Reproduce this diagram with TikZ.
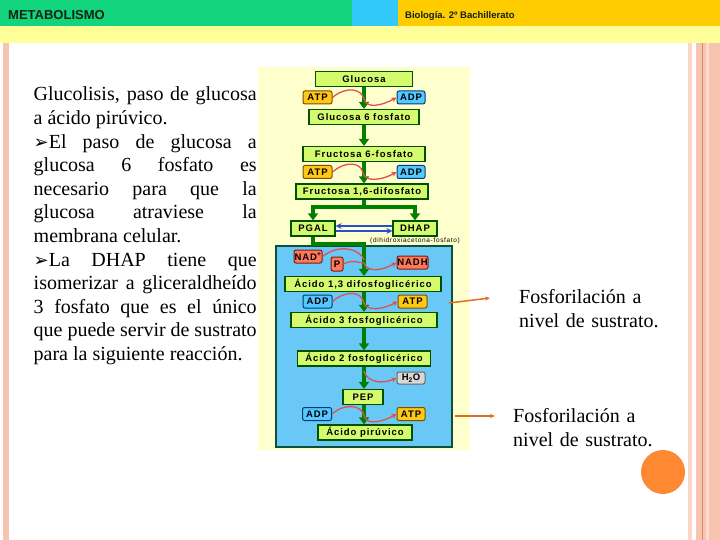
\documentclass[tikz,border=0pt]{standalone}
\usepackage{fontspec}
\setmainfont{Liberation Serif}
\newfontfamily\pixfont{Liberation Sans}[LetterSpace=10]
\newfontfamily\hdrfont{Liberation Sans}
\newfontfamily\symfont{DejaVu Sans}
\usetikzlibrary{arrows.meta,positioning,calc}
\definecolor{hdrgreen}{RGB}{18,212,124}
\definecolor{hdrblue}{RGB}{50,200,250}
\definecolor{hdryellow}{RGB}{255,204,0}
\definecolor{hdrpale}{RGB}{255,255,153}
\definecolor{hdrtext}{RGB}{20,35,20}
\definecolor{sidepink}{RGB}{248,196,176}
\definecolor{sideline}{RGB}{215,140,100}
\definecolor{panelbg}{RGB}{255,255,206}
\definecolor{cellblue}{RGB}{105,200,245}
\definecolor{cellline}{RGB}{10,80,60}
\definecolor{boxfill}{RGB}{212,250,110}
\definecolor{boxline}{RGB}{0,80,0}
\definecolor{flowgreen}{RGB}{0,128,0}
\definecolor{atpfill}{RGB}{255,200,20}
\definecolor{atpline}{RGB}{120,80,0}
\definecolor{adpfill}{RGB}{85,200,255}
\definecolor{adpline}{RGB}{0,60,120}
\definecolor{nadfill}{RGB}{255,120,90}
\definecolor{nadline}{RGB}{120,30,20}
\definecolor{waterfill}{RGB}{215,215,215}
\definecolor{redcurve}{RGB}{225,80,80}
\definecolor{swapblue}{RGB}{40,80,210}
\definecolor{calloutc}{RGB}{220,110,40}
\definecolor{dotorange}{RGB}{255,136,51}
\newcommand{\bul}{{\symfont\fontsize{18}{18}\selectfont ➢}}

\begin{document}
\begin{tikzpicture}[
    x=1pt, y=-1pt,
    stepbox/.style={rectangle, draw=boxline, line width=1.2pt, fill=boxfill,
                    minimum height=15pt, inner sep=0pt, font=\pixfont\bfseries\fontsize{9.5}{11}\selectfont},
    tagbox/.style={rectangle, rounded corners=2pt, line width=1pt, minimum height=13pt,
                   minimum width=29pt, inner sep=0pt, font=\pixfont\bfseries\fontsize{9.5}{11}\selectfont},
    atpbox/.style={tagbox, draw=atpline, fill=atpfill},
    adpbox/.style={tagbox, draw=adpline, fill=adpfill},
    nadbox/.style={tagbox, draw=nadline, fill=nadfill},
    waterbox/.style={tagbox, draw=black!60, fill=waterfill},
    flow/.style={line width=3.2pt, flowgreen, -{Triangle[width=10pt,length=7pt]}},
    flowline/.style={line width=3.2pt, flowgreen},
    redline/.style={line width=1.3pt, redcurve},
    redarr/.style={redline, -{Stealth[length=5pt,width=5pt]}},
    swap/.style={line width=1.8pt, swapblue, -{Stealth[length=6pt,width=6pt]}},
    callout/.style={line width=1.5pt, calloutc, -{Stealth[length=5pt,width=4pt]}},
    bodytext/.style={anchor=base west, inner sep=0pt, align=justify,
                     font=\fontsize{20}{23.6}\selectfont}
]
\useasboundingbox (0,0) rectangle (720,540);

% header bars
\fill[hdrgreen] (0,0) rectangle (352,26);
\fill[hdrblue] (352,0) rectangle (398,26);
\fill[hdryellow] (398,0) rectangle (720,26);
\fill[hdrpale] (0,26) rectangle (720,43);
\node[anchor=base west, inner sep=0pt, text=hdrtext, font=\hdrfont\bfseries\fontsize{13}{13}\selectfont] (title) at (8,19.5) {METABOLISMO};
\node[anchor=base west, inner sep=0pt, text=hdrtext, font=\hdrfont\bfseries\fontsize{9.5}{10}\selectfont] (course) at (405,18.5) {Biología. 2º Bachillerato};

% side borders
\fill[sidepink] (3,43) rectangle (9,540);
\fill[sidepink!70] (688,43) rectangle (692,540);
\fill[sidepink] (696,43) rectangle (720,540);
\fill[sidepink!60] (706,43) rectangle (709,540);
\draw[sideline, line width=0.8pt] (702,43) -- (702,540);
\fill[dotorange] (663,472) circle (22);

% picture panel
\fill[panelbg] (258,67) rectangle (470,450);
\filldraw[fill=cellblue, draw=cellline, line width=1.2pt] (276,246) rectangle (452,447);

% main column
\node[stepbox, minimum width=97pt] (glc) at (364,79) {Glucosa};
\node[stepbox, minimum width=110pt] (g6p) at (364,117) {Glucosa 6 fosfato};
\node[stepbox, minimum width=122pt] (f6p) at (364,154) {Fructosa 6-fosfato};
\node[stepbox, minimum width=132pt] (f16) at (362,191.5) {Fructosa 1,6-difosfato};
\node[stepbox, minimum width=44pt] (pgal) at (313,228.5) {PGAL};
\node[stepbox, minimum width=44pt] (dhap) at (415,228.5) {DHAP};
\node[inner sep=0pt, font=\pixfont\fontsize{6.5}{6.5}\selectfont] (dhapname) at (415,241) {(dihidroxiacetona-fosfato)};
\node[stepbox, minimum width=156pt] (a13) at (363,284) {Ácido 1,3 difosfoglicérico};
\node[stepbox, minimum width=146pt] (a3) at (364,320) {Ácido 3 fosfoglicérico};
\node[stepbox, minimum width=133pt] (a2) at (364,358.5) {Ácido 2 fosfoglicérico};
\node[stepbox, minimum width=40pt] (pep) at (363,397) {PEP};
\node[stepbox, minimum width=94pt] (pir) at (365,432.5) {Ácido pirúvico};

% cofactors
\node[atpbox] (atp1) at (317.5,97.5) {ATP};
\node[adpbox, minimum width=28pt] (adp1) at (411,97.5) {ADP};
\node[atpbox] (atp2) at (317.5,172) {ATP};
\node[adpbox, minimum width=28pt] (adp2) at (411,172) {ADP};
\node[nadbox, minimum width=28pt] (nad) at (308,256.5) {NAD\textsuperscript{+}};
\node[nadbox, minimum width=12pt, minimum height=14pt] (pi) at (337,264) {P};
\node[nadbox, minimum width=31pt] (nadh) at (412.5,262.5) {NADH};
\node[adpbox] (adp3) at (317.5,301.5) {ADP};
\node[atpbox] (atp3) at (412.5,301.5) {ATP};
\node[waterbox, minimum width=28pt, minimum height=12pt] (h2o) at (411,378) {H\textsubscript{2}O};
\node[adpbox] (adp4) at (317,414) {ADP};
\node[atpbox, minimum width=28pt] (atp4) at (411,414) {ATP};

% green flow
\coordinate (split) at (364,207);
\coordinate (merge) at (364,244);
\draw[flow] (glc) -- (g6p);
\draw[flow] (g6p) -- (f6p);
\draw[flow] (f6p.south -| glc) -- (f16.north -| glc);
\draw[flowline] (f16.south -| split) -- (split);
\draw[flow] (split) -| (pgal.north);
\draw[flow] (split) -| (dhap.north);
\draw[flow] (pgal.south) |- (merge) -- (a13.north -| merge);
\draw[flow] (a13.south -| merge) -- (a3.north -| merge);
\draw[flow] (a3.south -| merge) -- (a2.north -| merge);
\draw[flow] (a2.south -| merge) -- (pep.north -| merge);
\draw[flow] (pep.south -| merge) -- (pir.north -| merge);

% isomerase
\draw[swap] ([yshift=-2.5pt]pgal.east) -- ([yshift=-2.5pt]dhap.west);
\draw[swap] ([yshift=2.5pt]dhap.west) -- ([yshift=2.5pt]pgal.east);

% cofactor curves
\draw[redarr] (atp1.east) .. controls +(14,-12) and +(-2,-10) .. ($(glc.south)!.55!(g6p.north)$)
    .. controls +(2,10) and +(-14,8) .. (adp1.west);
\draw[redarr] (atp2.east) .. controls +(14,-12) and +(-2,-10) .. ($(f6p.south)!.5!(f16.north)$)
    .. controls +(2,10) and +(-14,8) .. (adp2.west);
\draw[redline] (nad.east) .. controls +(18,-14) and +(-3,-10) .. (364,260);
\draw[redline] (pi.east) .. controls +(10,-5) and +(-6,0) .. (364,263);
\draw[redarr] (364,263) .. controls +(3,10) and +(-14,8) .. (nadh.west);
\draw[redarr] (adp3.east) .. controls +(14,-12) and +(-2,-10) .. ($(a13.south)!.5!(a3.north)$)
    .. controls +(2,10) and +(-14,8) .. (atp3.west);
\draw[redarr] ($(a2.south)!.2!(pep.north)$) .. controls +(4,12) and +(-14,6) .. (h2o.west);
\draw[redarr] (adp4.east) .. controls +(14,-12) and +(-2,-10) .. ($(pep.south)!.55!(pir.north)$)
    .. controls +(2,10) and +(-14,8) .. (atp4.west);

% left text
\node[bodytext, text width=223pt] (intro) at (33.5,101) {Glucolisis, paso de glucosa\linebreak
a ácido pirúvico.\par
\bul El paso de glucosa a\linebreak
glucosa 6 fosfato es\linebreak
necesario para que la\linebreak
glucosa atraviese la\linebreak
membrana celular.\par
\bul La DHAP tiene que\linebreak
isomerizar a gliceraldheído\linebreak
3 fosfato que es el único\linebreak
que puede servir de sustrato\linebreak
para la siguiente reacción.};

% substrate-level labels
\coordinate (c1s) at (449,303);
\coordinate (c1e) at (490,298);
\coordinate (c2s) at (455,416);
\coordinate (c2e) at (495,416);
\draw[callout] (c1s) -- (c1e);
\draw[callout] (c2s) -- (c2e);
\node[anchor=base west, inner sep=0pt, align=left, text width=160pt, font=\fontsize{20}{24}\selectfont] (lbl1) at (519,303) {Fosforilación a\\nivel de sustrato.};
\node[anchor=base west, inner sep=0pt, align=left, text width=160pt, font=\fontsize{20}{24}\selectfont] (lbl2) at (513,422) {Fosforilación a\\nivel de sustrato.};
\end{tikzpicture}
\end{document}
